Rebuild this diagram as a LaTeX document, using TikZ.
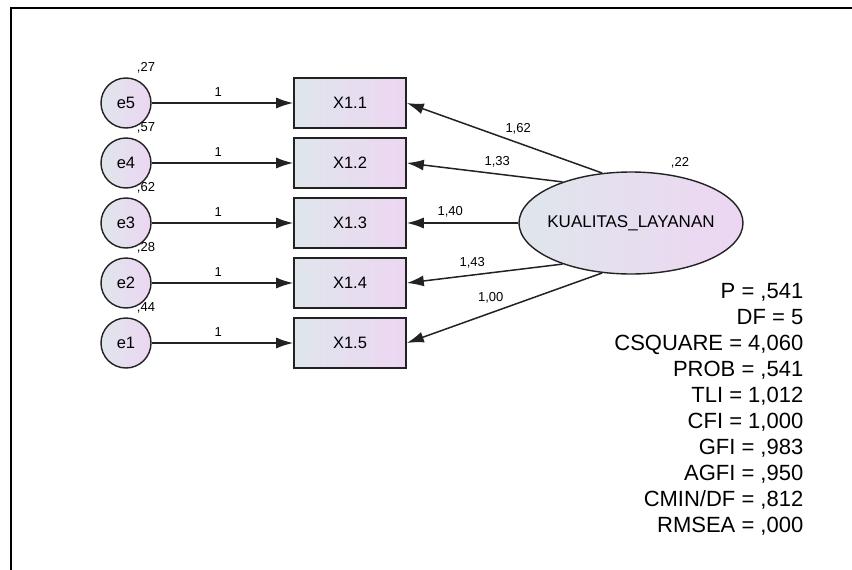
\documentclass[tikz,border=0pt]{standalone}
\usepackage{fontspec}
\setmainfont{Liberation Sans}
\usetikzlibrary{shapes.geometric,arrows.meta}
\definecolor{gradL}{HTML}{DFE6EC}
\definecolor{gradR}{HTML}{EDD6F2}
\definecolor{edge}{HTML}{222222}
\tikzset{
  obsbox/.style={draw=edge, line width=1.6pt, rectangle, minimum width=112pt, minimum height=50pt, inner sep=0pt, left color=gradL, right color=gradR, font=\fontsize{16.5}{19}\selectfont},
  errc/.style={draw=edge, line width=1.4pt, circle, minimum size=50pt, inner sep=0pt, left color=gradL, right color=gradR, font=\fontsize{16.5}{19}\selectfont},
  latent/.style={draw=edge, line width=1.4pt, ellipse, minimum width=224pt, minimum height=102pt, inner sep=0pt, left color=gradL, right color=gradR},
  arr/.style={draw=edge, line width=1.5pt, -{Latex[length=17pt, width=11pt]}},
  lbl/.style={font=\fontsize{13}{15}\selectfont, inner sep=1pt},
  var/.style={font=\fontsize{13}{15}\selectfont, inner sep=0pt},
}
\begin{document}
\begin{tikzpicture}[x=1pt,y=-1pt]
\useasboundingbox (0,0) rectangle (852,570);
\draw[line width=2pt] (10.5,570) -- (10.5,7.5) -- (852,7.5);

% observed indicators
\node[obsbox] (x1) at (350,103) {X1.1};
\node[obsbox] (x2) at (350,163) {X1.2};
\node[obsbox] (x3) at (350,223) {X1.3};
\node[obsbox] (x4) at (350,283) {X1.4};
\node[obsbox] (x5) at (350,343) {X1.5};

% error terms
\node[errc] (e5) at (126,103) {e5};
\node[errc] (e4) at (126,163) {e4};
\node[errc] (e3) at (126,223) {e3};
\node[errc] (e2) at (126,283) {e2};
\node[errc] (e1) at (126,343) {e1};

\node[var] (v5) at (146,68) {,27};
\node[var] (v4) at (146,128) {,57};
\node[var] (v3) at (146,188) {,62};
\node[var] (v2) at (146,248) {,28};
\node[var] (v1) at (146,308) {,44};

\draw[arr] (e5) -- node[lbl, pos=0.47, above=5pt] {1} (x1);
\draw[arr] (e4) -- node[lbl, pos=0.47, above=5pt] {1} (x2);
\draw[arr] (e3) -- node[lbl, pos=0.47, above=5pt] {1} (x3);
\draw[arr] (e2) -- node[lbl, pos=0.47, above=5pt] {1} (x4);
\draw[arr] (e1) -- node[lbl, pos=0.47, above=5pt] {1} (x5);

% latent
\node[latent] (k) at (631,223) {};
\node[font=\fontsize{17}{20}\selectfont, inner sep=0pt] (kt) at (k.center) {KUALITAS\_LAYANAN};
\node[var] (vk) at (680,163) {,22};

\draw[arr] (k.120) -- node[lbl, pos=0.43, above=7pt] {1,62} (x1.east);
\draw[arr] (k.149) -- node[lbl, pos=0.42, above=5pt] {1,33} (x2.east);
\draw[arr] (k.180) -- node[lbl, pos=0.61, above=4pt] {1,40} (x3.east);
\draw[arr] (k.211) -- node[lbl, pos=0.58, above=5pt] {1,43} (x4.east);
\draw[arr] (k.240) -- node[lbl, pos=0.57, above=8pt] {1,00} (x5.east);

% fit statistics
\node[anchor=north east, inner sep=0pt, align=right, font=\fontsize{22}{26}\selectfont] (fit) at (803.5,283)
{P = ,541\\DF = 5\\CSQUARE = 4,060\\PROB = ,541\\TLI = 1,012\\CFI = 1,000\\GFI = ,983\\AGFI = ,950\\CMIN/DF = ,812\\RMSEA = ,000};
\end{tikzpicture}
\end{document}
